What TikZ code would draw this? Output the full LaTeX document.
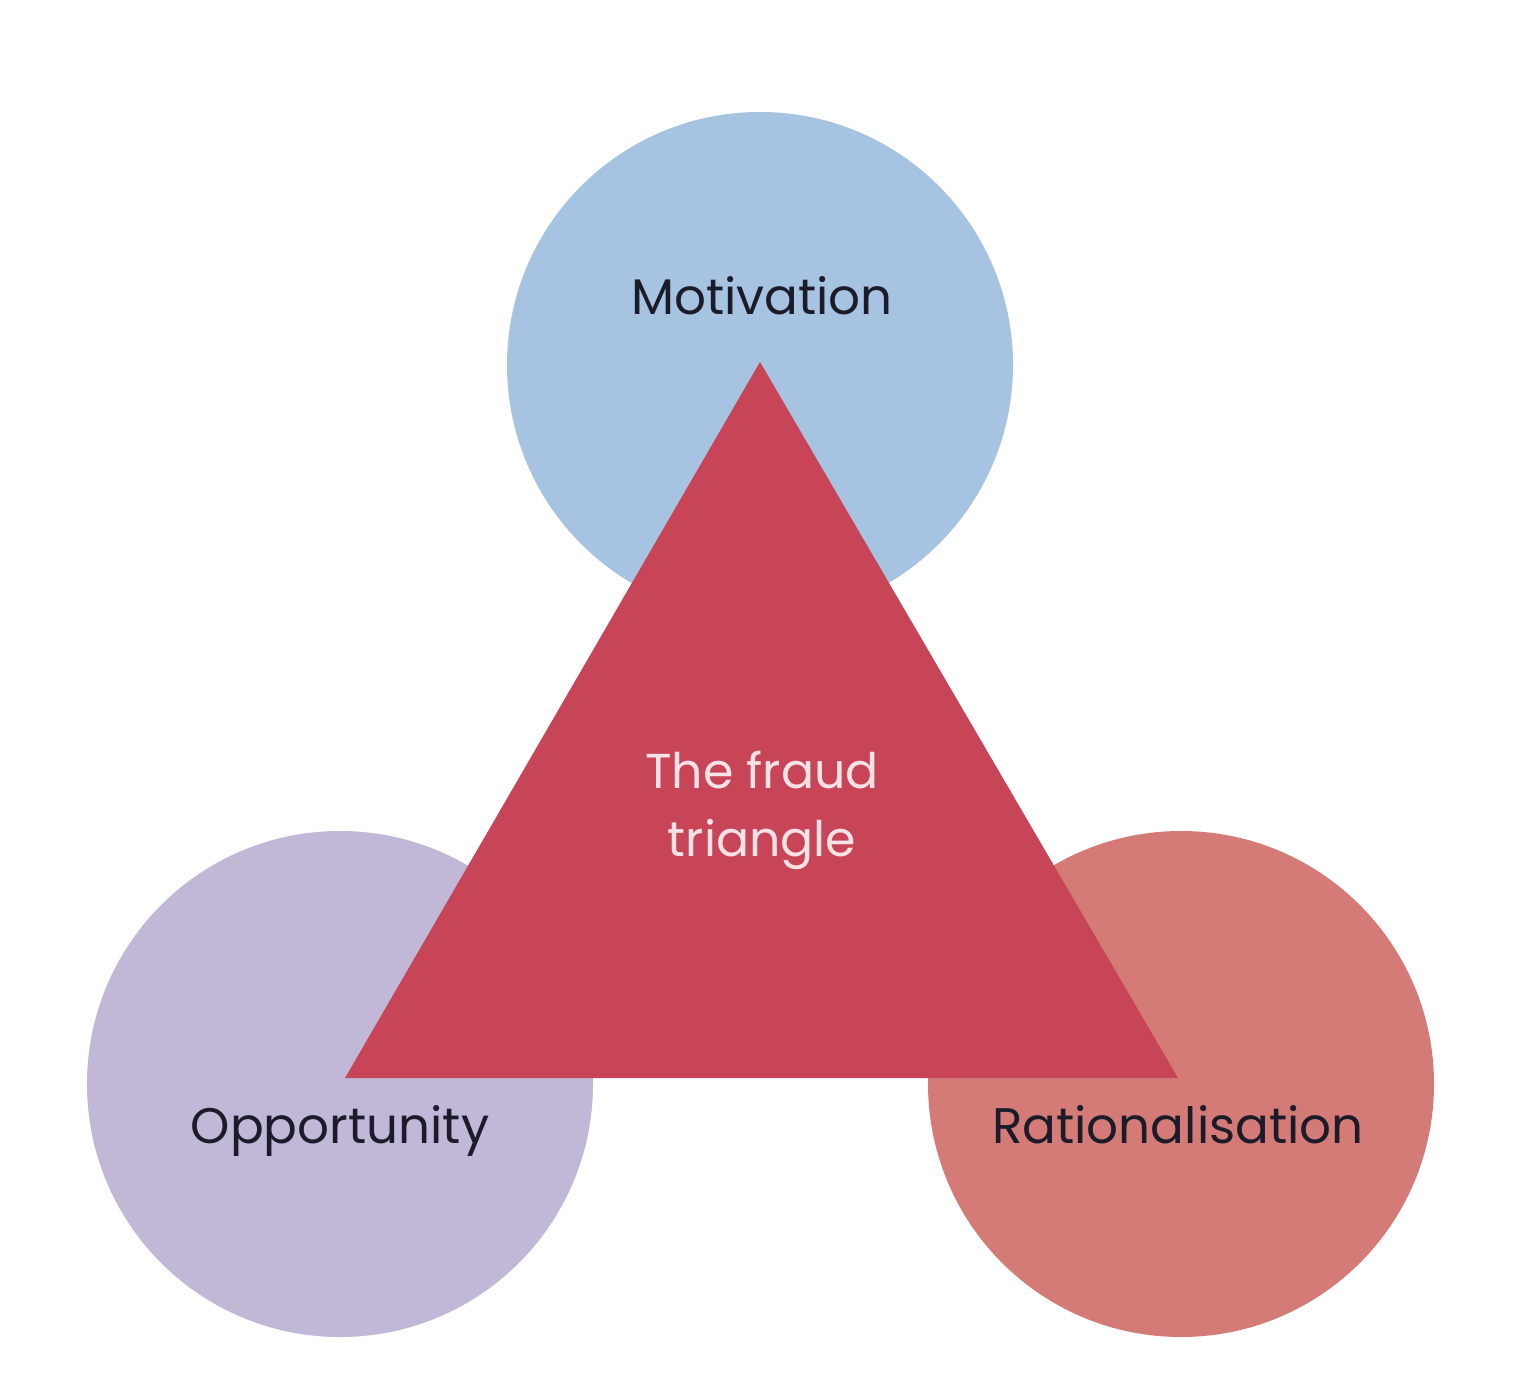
\documentclass[tikz,border=0pt]{standalone}
\usepackage{fontspec}
\setmainfont{Poppins}
\definecolor{motblue}{HTML}{A6C3E1}
\definecolor{opppurple}{HTML}{C1B7D6}
\definecolor{ratsalmon}{HTML}{D47B77}
\definecolor{fraudred}{HTML}{C84558}
\definecolor{labeldark}{HTML}{1C1B2A}
\definecolor{innerpink}{HTML}{F7E3E6}
\begin{document}
\begin{tikzpicture}[x=0.5pt,y=-0.5pt,
  bubble/.style={circle, draw=none, minimum size=253pt, inner sep=0pt},
  outerlabel/.style={text=labeldark, font=\fontsize{25}{30}\selectfont, inner sep=0pt, anchor=base},
  innerlabel/.style={text=innerpink, font=\fontsize{24.5}{34}\selectfont, inner sep=0pt, align=center}]
  \useasboundingbox[fill=white] (0,0) rectangle (1530,1385);
  % the three factor circles
  \node[bubble, fill=motblue] (motivation) at (760,365) {};
  \node[bubble, fill=opppurple] (opportunity) at (340,1084) {};
  \node[bubble, fill=ratsalmon] (rationalisation) at (1181,1084) {};
  % the triangle on top
  \coordinate (apex) at (760,362);
  \coordinate (left) at (345,1078);
  \coordinate (right) at (1178,1078);
  \fill[fraudred] (apex) -- (right) -- (left) -- cycle;
  % labels
  \node[outerlabel] (motlabel) at (762,315) {Motivation};
  \node[outerlabel] (opplabel) at (340,1143) {Opportunity};
  \node[outerlabel] (ratlabel) at (1178,1143) {Rationalisation};
  \node[innerlabel] (centre) at (762,810) {The fraud\\triangle};
\end{tikzpicture}
\end{document}
